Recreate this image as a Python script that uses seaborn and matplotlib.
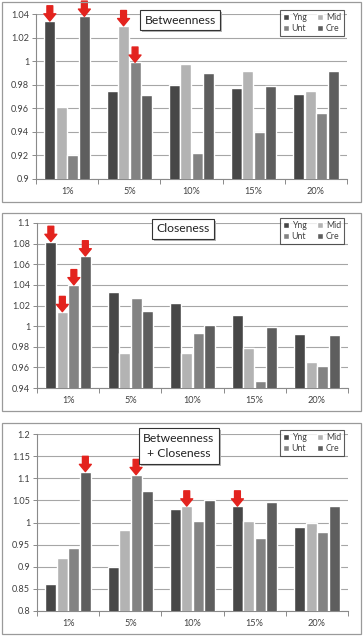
import matplotlib
matplotlib.use("Agg")
import matplotlib.pyplot as plt
import matplotlib.patches as mpatches
import matplotlib.patheffects as pe
import seaborn as sns
import pandas as pd

groups = ["1%", "5%", "10%", "15%", "20%"]
series = ["Yng", "Mid", "Unt", "Cre"]
colors = ["#474747", "#b3b3b3", "#838383", "#5e5e5e"]

betw_yng = [1.034, 0.975, 0.980, 0.977, 0.972]
betw_mid = [0.961, 1.030, 0.998, 0.992, 0.975]
betw_unt = [0.920, 0.999, 0.922, 0.940, 0.956]
betw_cre = [1.038, 0.971, 0.990, 0.979, 0.992]

clos_yng = [1.082, 1.033, 1.022, 1.011, 0.992]
clos_mid = [1.014, 0.974, 0.974, 0.979, 0.965]
clos_unt = [1.040, 1.027, 0.993, 0.947, 0.961]
clos_cre = [1.068, 1.015, 1.001, 0.999, 0.991]

bc_yng = [0.861, 0.900, 1.030, 1.037, 0.990]
bc_mid = [0.920, 0.983, 1.037, 1.003, 1.000]
bc_unt = [0.942, 1.108, 1.003, 0.966, 0.978]
bc_cre = [1.115, 1.071, 1.050, 1.047, 1.037]

betw_ticks = [0.9, 0.92, 0.94, 0.96, 0.98, 1.0, 1.02, 1.04]
betw_labels = ["0.9", "0.92", "0.94", "0.96", "0.98", "1", "1.02", "1.04"]
clos_ticks = [0.94, 0.96, 0.98, 1.0, 1.02, 1.04, 1.06, 1.08, 1.1]
clos_labels = ["0.94", "0.96", "0.98", "1", "1.02", "1.04", "1.06", "1.08", "1.1"]
bc_ticks = [0.8, 0.85, 0.9, 0.95, 1.0, 1.05, 1.1, 1.15, 1.2]
bc_labels = ["0.8", "0.85", "0.9", "0.95", "1", "1.05", "1.1", "1.15", "1.2"]

titles = ["Betweenness", "Closeness", "Betweenness\n+ Closeness"]
# highlighted bars (group index, series index)
betw_arrows = [(0, 0), (0, 3), (1, 1), (1, 2)]
clos_arrows = [(0, 0), (0, 1), (0, 2), (0, 3)]
bc_arrows = [(0, 3), (1, 2), (2, 1), (3, 0)]

sns.set_style("white")
plt.rcParams["font.family"] = ["Lato", "DejaVu Sans"]

W, H = 363, 637
fig = plt.figure(figsize=(W / 100, H / 100), dpi=100)


def make_df(vals):
    rows = []
    for s, v in zip(series, vals):
        for g, x in zip(groups, v):
            rows.append({"group": g, "series": s, "value": x})
    return pd.DataFrame(rows)


panels = [
    dict(vals=[betw_yng, betw_mid, betw_unt, betw_cre], ticks=betw_ticks, labels=betw_labels,
         ax=(36, 14, 347, 179), frame=(2, 2, 361, 202), title_xy=(180, 20), arrows=betw_arrows,
         leg_top=10, title=titles[0]),
    dict(vals=[clos_yng, clos_mid, clos_unt, clos_cre], ticks=clos_ticks, labels=clos_labels,
         ax=(37, 223, 348, 388), frame=(2, 213, 361, 411), title_xy=(183, 229), arrows=clos_arrows,
         leg_top=218, title=titles[1]),
    dict(vals=[bc_yng, bc_mid, bc_unt, bc_cre], ticks=bc_ticks, labels=bc_labels,
         ax=(37, 434, 348, 611), frame=(2, 423, 361, 634), title_xy=(179, 446), arrows=bc_arrows,
         leg_top=430, title=titles[2]),
]

for p in panels:
    x0, y0, x1, y1 = p["frame"]
    fig.patches.append(mpatches.Rectangle((x0 / W, 1 - y1 / H), (x1 - x0) / W, (y1 - y0) / H,
                                          transform=fig.transFigure, fill=False,
                                          edgecolor="#9a9a9a", linewidth=0.9, zorder=0))
    l, t, r, b = p["ax"]
    ax = fig.add_axes([l / W, 1 - b / H, (r - l) / W, (b - t) / H])
    df = make_df(p["vals"])
    sns.barplot(data=df, x="group", y="value", hue="series", hue_order=series, order=groups,
                palette=colors, width=0.74, gap=0.04, saturation=1, legend=False, ax=ax,
                errorbar=None, zorder=3)
    ax.set_ylim(p["ticks"][0], p["ticks"][-1])
    ax.set_yticks(p["ticks"])
    ax.set_yticklabels(p["labels"])
    ax.set_xlim(-0.5, len(groups) - 0.5)
    ax.set_xlabel("")
    ax.set_ylabel("")
    ax.yaxis.grid(True, color="#a6a6a6", linewidth=0.8, zorder=0)
    ax.set_axisbelow(True)
    for s in ["top", "right"]:
        ax.spines[s].set_visible(False)
    for s in ["left", "bottom"]:
        ax.spines[s].set_color("#8a8a8a")
        ax.spines[s].set_linewidth(0.8)
    ax.tick_params(axis="y", length=3, width=0.7, color="#8a8a8a", labelsize=6.6,
                   labelcolor="#404040", pad=2, left=True)
    ax.tick_params(axis="x", which="major", length=0, labelsize=6.6, labelcolor="#404040", pad=6)
    ax.set_xticks([i - 0.5 for i in range(len(groups) + 1)], minor=True)
    ax.tick_params(axis="x", which="minor", length=3.5, width=0.7, color="#8a8a8a", bottom=True)

    # arrows on highlighted bars
    for gi, si in p["arrows"]:
        bar = ax.containers[si][gi]
        xc = bar.get_x() + bar.get_width() / 2
        top = bar.get_y() + bar.get_height()
        ax.annotate("", xy=(xc, top), xytext=(0, 11), textcoords="offset points",
                    annotation_clip=False,
                    arrowprops=dict(arrowstyle="simple,head_length=0.55,head_width=0.9,tail_width=0.44",
                                    color="#e3231e", mutation_scale=9.5, shrinkA=0, shrinkB=0),
                    zorder=6)

    # title box with shadow
    tx, ty = p["title_xy"]
    txt = fig.text(tx / W, 1 - ty / H, p["title"], ha="center", va="center", fontsize=8.7,
                   color="#222222", linespacing=1.5,
                   bbox=dict(boxstyle="square,pad=0.38", facecolor="white", edgecolor="#333333",
                             linewidth=0.8), zorder=8)
    txt.get_bbox_patch().set_path_effects([
        pe.SimplePatchShadow(offset=(1.5, -1.5), shadow_rgbFace="#b5b5b5", alpha=1.0),
        pe.Normal()])

    # legend
    handles = [mpatches.Patch(facecolor=c, label=s) for s, c in zip(series, colors)]
    order = [0, 2, 1, 3]
    leg = fig.legend([handles[i] for i in order], [series[i] for i in order], ncol=2,
                     loc="upper right", bbox_to_anchor=(344 / W, 1 - p["leg_top"] / H),
                     fontsize=6.3, frameon=True, fancybox=False, edgecolor="#333333",
                     handlelength=0.7, handleheight=0.7, handletextpad=0.3, columnspacing=1.2,
                     labelspacing=0.25, borderpad=0.35, borderaxespad=0)
    leg.get_frame().set_linewidth(0.8)
    for t in leg.get_texts():
        t.set_color("#404040")

fig.savefig("out.png", dpi=100, facecolor="white")
